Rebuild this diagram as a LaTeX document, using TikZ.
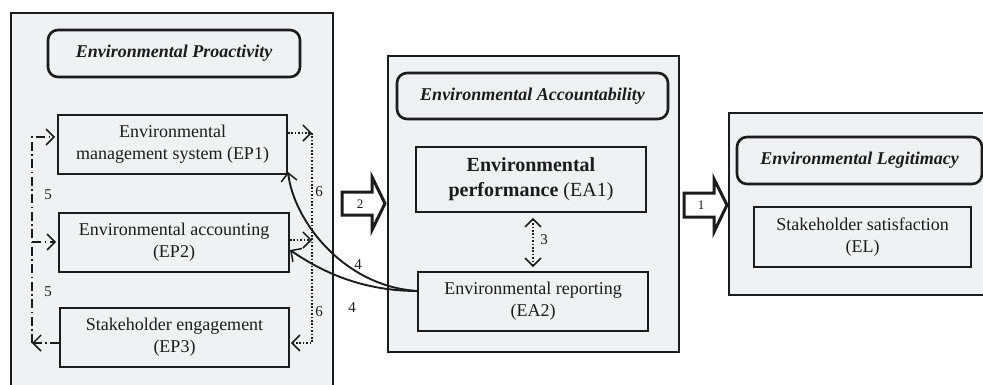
\documentclass[tikz,border=0pt]{standalone}
\usepackage{fontspec}
\setmainfont{Liberation Serif}
\usetikzlibrary{arrows.meta}
\definecolor{panelgray}{RGB}{240,241,243}
\definecolor{ink}{RGB}{28,28,28}
\begin{document}
\begin{tikzpicture}[x=1pt,y=-1pt,
  panel/.style={draw=ink, line width=2.4pt, fill=panelgray, inner sep=0pt},
  titlebox/.style={draw=ink, line width=2.6pt, rounded corners=10pt, fill=panelgray, inner sep=0pt, text=ink, font=\fontsize{18}{22}\selectfont\bfseries\itshape},
  box/.style={draw=ink, line width=1.8pt, fill=panelgray, inner sep=0pt, align=center, text=ink, font=\fontsize{18}{22}\selectfont},
  lbl/.style={font=\fontsize{15}{18}\selectfont, inner sep=0pt, text=ink},
  small/.style={font=\fontsize{13}{15}\selectfont, inner sep=0pt, text=ink},
  barb/.tip={Straight Barb[length=8pt,width=16pt,line width=1.5pt]},
  tip/.style={-barb},
  dashdotline/.style={draw=ink, line width=1.4pt, dash pattern=on 9pt off 3.5pt on 1.5pt off 3.5pt},
  dotline/.style={draw=ink, line width=1.7pt, dash pattern=on 1.6pt off 1.8pt},
  curveline/.style={draw=ink, line width=1.9pt},
  blockarrow/.style={draw=ink, line width=3pt, fill=white, miter limit=20}
]
\useasboundingbox (0,0) rectangle (983,384);
\clip (0,0) rectangle (983,384);

% Panels
\node[panel, minimum width=322pt, minimum height=382pt] (p1) at (172,204) {};
\node[panel, minimum width=291pt, minimum height=296pt] (p2) at (533.5,204) {};
\node[panel, minimum width=266pt, minimum height=182pt] (p3) at (862,204) {};

% Titles
\node[titlebox, minimum width=252pt, minimum height=47pt] (t1) at (174,53.5) {Environmental Proactivity};
\node[titlebox, minimum width=271pt, minimum height=46pt] (t2) at (532.5,96) {Environmental Accountability};
\node[titlebox, minimum width=245pt, minimum height=47pt] (t3) at (859.5,160.5) {Environmental Legitimacy};

% Boxes
\node[box, minimum width=229pt, minimum height=59pt] (EP1) at (172.5,144.5) {Environmental\\management system (EP1)};
\node[box, minimum width=230pt, minimum height=59pt] (EP2) at (174,242.5) {Environmental accounting\\(EP2)};
\node[box, minimum width=229pt, minimum height=59pt] (EP3) at (174.5,337.5) {Stakeholder engagement\\(EP3)};
\node[box, minimum width=230pt, minimum height=65pt, font=\fontsize{20}{25}\selectfont] (EA1) at (531,179.5) {\textbf{Environmental}\\\textbf{performance} (EA1)};
\node[box, minimum width=230pt, minimum height=59pt] (EA2) at (533,301.5) {Environmental reporting\\(EA2)};
\node[box, minimum width=217pt, minimum height=60pt] (EL) at (862.5,237) {Stakeholder satisfaction\\(EL)};

% Connector 5 (dash-dot)
\coordinate (l1) at (32,137);
\coordinate (l2) at (32,242);
\coordinate (l3) at (32,343);
\draw[dashdotline, tip] (EP3.west |- l3) -- (l3);
\draw[dashdotline, tip] (l3) -- (l1) -- ([xshift=-2pt]EP1.west |- l1);
\draw[dashdotline, tip] (l2) -- ([xshift=-2pt]EP2.west |- l2);
\node[lbl] (n5a) at (48,195) {5};
\node[lbl] (n5b) at (48,292) {5};

% Connector 6 (dotted)
\coordinate (r1) at (312,133);
\coordinate (r2) at (312,240);
\coordinate (r3) at (312,343);
\draw[dotline, tip] (EP1.east |- r1) -- (r1);
\draw[dotline, tip] (EP2.east |- r2) -- (r2);
\draw[dotline, tip] (r1) -- (r3) -- ([xshift=1pt]EP3.east |- r3);
\node[lbl] (n6a) at (319,192) {6};
\node[lbl] (n6b) at (319,312) {6};

% Connector 4 (curves)
\coordinate (s4) at (418,291);
\coordinate (e1) at (288,172);
\coordinate (e2) at (290,250);
\draw[curveline, tip] (s4) .. controls (345,287) and (294,222) .. (e1);
\draw[curveline, tip] (s4) .. controls (365,291) and (325,274) .. (e2);
\node[lbl] (n4a) at (358,265) {4};
\node[lbl] (n4b) at (352,308) {4};

% Connector 3 (dotted double)
\draw[dotline, barb-barb] ([xshift=2pt,yshift=-5pt]EA1.south) -- ([yshift=4pt]EA2.north);
\node[lbl] (n3) at (544,240) {3};

% Block arrows 2 and 1
\draw[blockarrow] (342,192) -- (372,192) -- (372,177) -- (385,203.5) -- (372,230) -- (372,215) -- (342,215) -- cycle;
\node[small] (n2) at (360,204) {2};
\draw[blockarrow] (684,193) -- (714,193) -- (714,179) -- (727,205) -- (714,232) -- (714,217) -- (684,217) -- cycle;
\node[small] (n1) at (701,205) {1};
\end{tikzpicture}
\end{document}
